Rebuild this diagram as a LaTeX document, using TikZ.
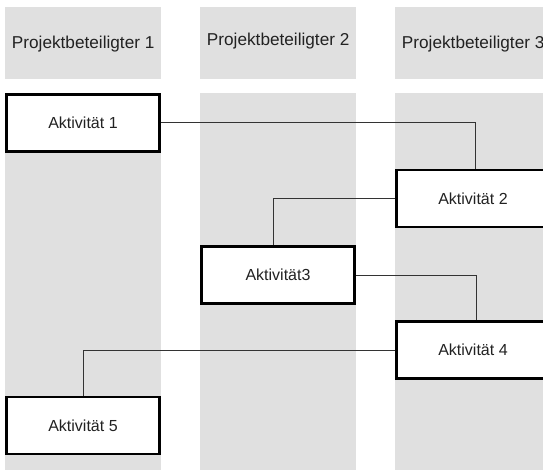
\documentclass[tikz,border=0pt]{standalone}
\usepackage{fontspec}
\setmainfont{Liberation Sans}
\definecolor{laneGray}{HTML}{E0E0E0}
\definecolor{inkDark}{HTML}{222222}
\definecolor{linkGray}{HTML}{333333}
\begin{document}
\begin{tikzpicture}[x=1pt,y=-1pt,
  lanebox/.style={fill=laneGray, draw=none, inner sep=0pt, anchor=north west,
    minimum width=156pt, minimum height=385pt},
  headbox/.style={fill=laneGray, draw=none, inner sep=0pt, anchor=north west,
    minimum width=156pt, minimum height=72pt},
  headtext/.style={inner sep=0pt, text=inkDark, font=\fontsize{17.2}{20}\selectfont},
  actbox/.style={draw=black, line width=2.3pt, fill=white, inner sep=0pt,
    minimum width=153pt, minimum height=57pt, text=inkDark,
    font=\fontsize{16}{19}\selectfont},
  link/.style={draw=linkGray, line width=1pt}]
\clip (0,0) rectangle (543,470);
\fill[white] (0,0) rectangle (543,470);

% swimlane headers
\node[headbox] (h1) at (5,7) {};
\node[headbox] (h2) at (200,7) {};
\node[headbox] (h3) at (395,7) {};
\node[headtext] (t1) at ([yshift=-1pt]h1.center) {Projektbeteiligter 1};
\node[headtext] (t2) at ([yshift=2pt]h2.center) {Projektbeteiligter 2};
\node[headtext] (t3) at ([yshift=-1pt]h3.center) {Projektbeteiligter 3};

% swimlanes
\node[lanebox] (l1) at (5,93) {};
\node[lanebox] (l2) at (200,93) {};
\node[lanebox] (l3) at (395,93) {};

% activities
\node[actbox] (a1) at (83,123) {Aktivität 1};
\node[actbox] (a2) at (473,198.5) {Aktivität 2};
\node[actbox] (a3) at (278,275) {Aktivität3};
\node[actbox] (a4) at (473,350) {Aktivität 4};
\node[actbox] (a5) at (83,425.5) {Aktivität 5};

% flow between activities
\draw[link] (a1.east) -| ([xshift=2pt]a2.north);
\draw[link] (a2.west) -| ([xshift=-5pt]a3.north);
\draw[link] (a3.east) -| ([xshift=3pt]a4.north);
\draw[link] (a4.west) -| (a5.north);
\end{tikzpicture}
\end{document}
